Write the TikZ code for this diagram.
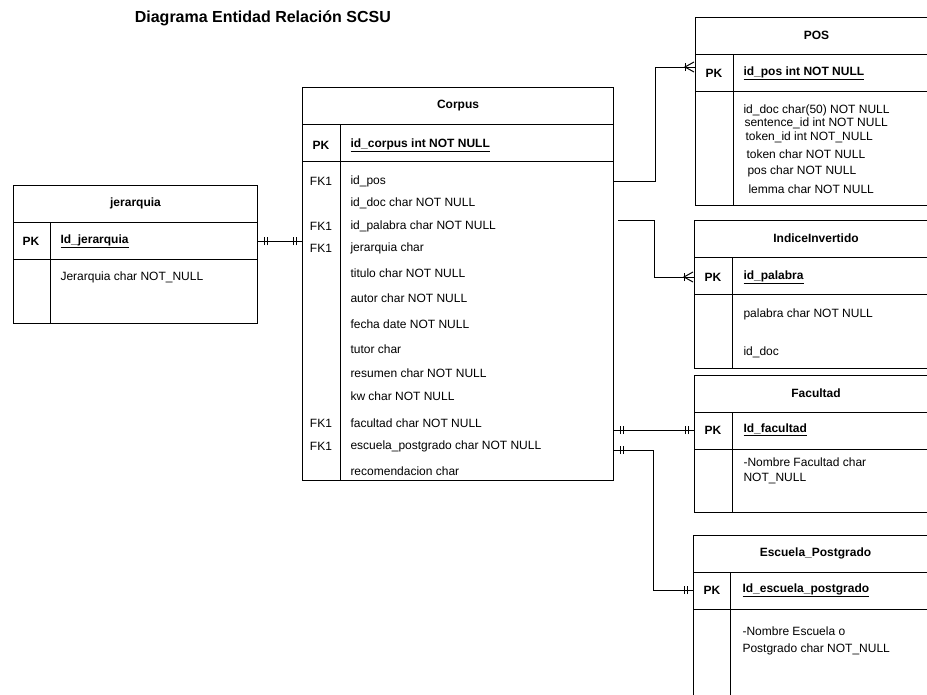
\documentclass[tikz,border=0pt]{standalone}
\usepackage{fontspec}
\setmainfont{Liberation Sans}
\usetikzlibrary{calc, decorations.markings}

\tikzset{
  tbl/.style={draw, line width=1pt, inner sep=0pt, anchor=north west},
  ttl/.style={font=\fontsize{12}{14}\selectfont\bfseries},
  key/.style={font=\fontsize{12}{14}\selectfont\bfseries},
  fk/.style={font=\fontsize{12}{14}\selectfont},
  fld/.style={anchor=west, inner sep=0pt, font=\fontsize{12}{14}\selectfont},
  pkfld/.style={fld, font=\fontsize{12}{14}\selectfont\bfseries},
  oneone/.style={postaction={decorate, decoration={markings,
      mark=at position 6pt with {\draw (0,-4pt) -- (0,4pt);},
      mark=at position 9pt with {\draw (0,-4pt) -- (0,4pt);},
      mark=at position -6pt with {\draw (0,-4pt) -- (0,4pt);},
      mark=at position -9pt with {\draw (0,-4pt) -- (0,4pt);}}}},
  onemany/.style={postaction={decorate, decoration={markings,
      mark=at position -10pt with {\draw (0,-4pt) -- (0,4pt);
        \draw (9pt,5pt) -- (0,0) -- (9pt,-5pt);}}}}
}

\begin{document}
\begin{tikzpicture}[x=1pt, y=-1pt, line width=1pt]
  \useasboundingbox (0,0) rectangle (927,694);
  \clip (0,0) rectangle (927,694);

  \node[font=\fontsize{16}{19}\selectfont\bfseries, anchor=west] (title) at (131,18) {Diagrama Entidad Relación SCSU};

  % tablas
  \node[tbl, minimum width=244pt, minimum height=138pt] (jer) at (13,185) {};
  \node[tbl, minimum width=311pt, minimum height=393pt] (corpus) at (302,87) {};
  \node[tbl, minimum width=242pt, minimum height=188pt] (pos) at (695,17) {};
  \node[tbl, minimum width=243pt, minimum height=148pt] (ind) at (694,220) {};
  \node[tbl, minimum width=243pt, minimum height=137pt] (fac) at (694,375) {};
  \node[tbl, minimum width=244pt, minimum height=200pt] (esc) at (693,535) {};

  \foreach \t/\kx in {jer/37, corpus/38, pos/38, ind/38, fac/38, esc/37} {
    \draw ([yshift=-37pt]\t.north west) -- ([yshift=-37pt]\t.north east);
    \draw ([yshift=-74pt]\t.north west) -- ([yshift=-74pt]\t.north east);
    \draw ([shift={(\kx pt,-37pt)}]\t.north west) -- ([xshift=\kx pt]\t.south west);
  }

  % jerarquia
  \node[ttl] (jerT) at ([yshift=-18.5pt]jer.north) {jerarquia};
  \node[key] (jerK) at (31,241) {PK};
  \node[pkfld] (jerpk) at (60,241) {\underline{Id\_jerarquia}};
  \node[fld] (jer1) at (60,277) {Jerarquia char NOT\_NULL};

  % Corpus
  \node[ttl] (corpusT) at ([yshift=-18.5pt]corpus.north) {Corpus};
  \node[key] (corpusK) at (321,145) {PK};
  \node[pkfld] (corpuspk) at (350,145) {\underline{id\_corpus int NOT NULL}};
  \foreach \y/\txt [count=\i] in {181/id\_pos, 203/id\_doc char NOT NULL,
      226/id\_palabra char NOT NULL, 248/jerarquia char, 273/titulo char NOT NULL,
      298/autor char NOT NULL, 324/fecha date NOT NULL, 349/tutor char,
      373/resumen char NOT NULL, 396/kw char NOT NULL, 423/facultad char NOT NULL,
      446/escuela\_postgrado char NOT NULL, 471/recomendacion char}
    \node[fld] (c\i) at (350,\y) {\txt};
  \foreach \i in {1,3,4,11,12}
    \node[fk] (fk\i) at ([xshift=-29pt]c\i.west) {FK1};

  % POS
  \node[ttl] (posT) at ([yshift=-18.5pt]pos.north) {POS};
  \node[key] (posK) at (714,73) {PK};
  \node[pkfld] (pospk) at (743,73) {\underline{id\_pos int NOT NULL}};
  \foreach \x/\y/\txt [count=\i] in {743/110/id\_doc char(50) NOT NULL,
      744/123/sentence\_id int NOT NULL, 745/137/token\_id int NOT\_NULL,
      746/154/token char NOT NULL, 747/171/pos char NOT NULL,
      748/189/lemma char NOT NULL}
    \node[fld] (p\i) at (\x,\y) {\txt};

  % IndiceInvertido
  \node[ttl] (indT) at ([yshift=-18.5pt]ind.north) {IndiceInvertido};
  \node[key] (indK) at (713,277) {PK};
  \node[pkfld] (indpk) at (743,277) {\underline{id\_palabra}};
  \node[fld] (ind1) at (743,314) {palabra char NOT NULL};
  \node[fld] (ind2) at (743,352) {id\_doc};

  % Facultad
  \node[ttl] (facT) at ([yshift=-18.5pt]fac.north) {Facultad};
  \node[key] (facK) at (713,430) {PK};
  \node[pkfld] (facpk) at (743,430) {\underline{Id\_facultad}};
  \node[fld, align=left, font=\fontsize{12}{15.5}\selectfont] (fac1) at (743,471) {-Nombre Facultad char\\NOT\_NULL};

  % Escuela_Postgrado
  \node[ttl] (escT) at ([yshift=-18.5pt]esc.north) {Escuela\_Postgrado};
  \node[key] (escK) at (712,590) {PK};
  \node[pkfld] (escpk) at (742,590) {\underline{Id\_escuela\_postgrado}};
  \node[fld, align=left, font=\fontsize{12}{17}\selectfont] (esc1) at (742,641) {-Nombre Escuela o\\Postgrado char NOT\_NULL};

  % relaciones
  \draw[oneone] (jer.east |- jerpk) -- (corpus.west |- jerpk);
  \draw[onemany] (corpus.east |- c1) -- ++(41,0) |- ($(pos.west |- pospk)+(0,-6)$);
  \draw[onemany] ($(corpus.east |- c3)+(4,-6)$) -- ++(36,0) |- (ind.west |- indpk);
  \draw[oneone] (corpus.east |- facpk) -- (fac.west |- facpk);
  \draw[oneone] ($(corpus.east |- c12)+(0,4)$) -- ++(39,0) |- (esc.west |- escpk);
\end{tikzpicture}
\end{document}
